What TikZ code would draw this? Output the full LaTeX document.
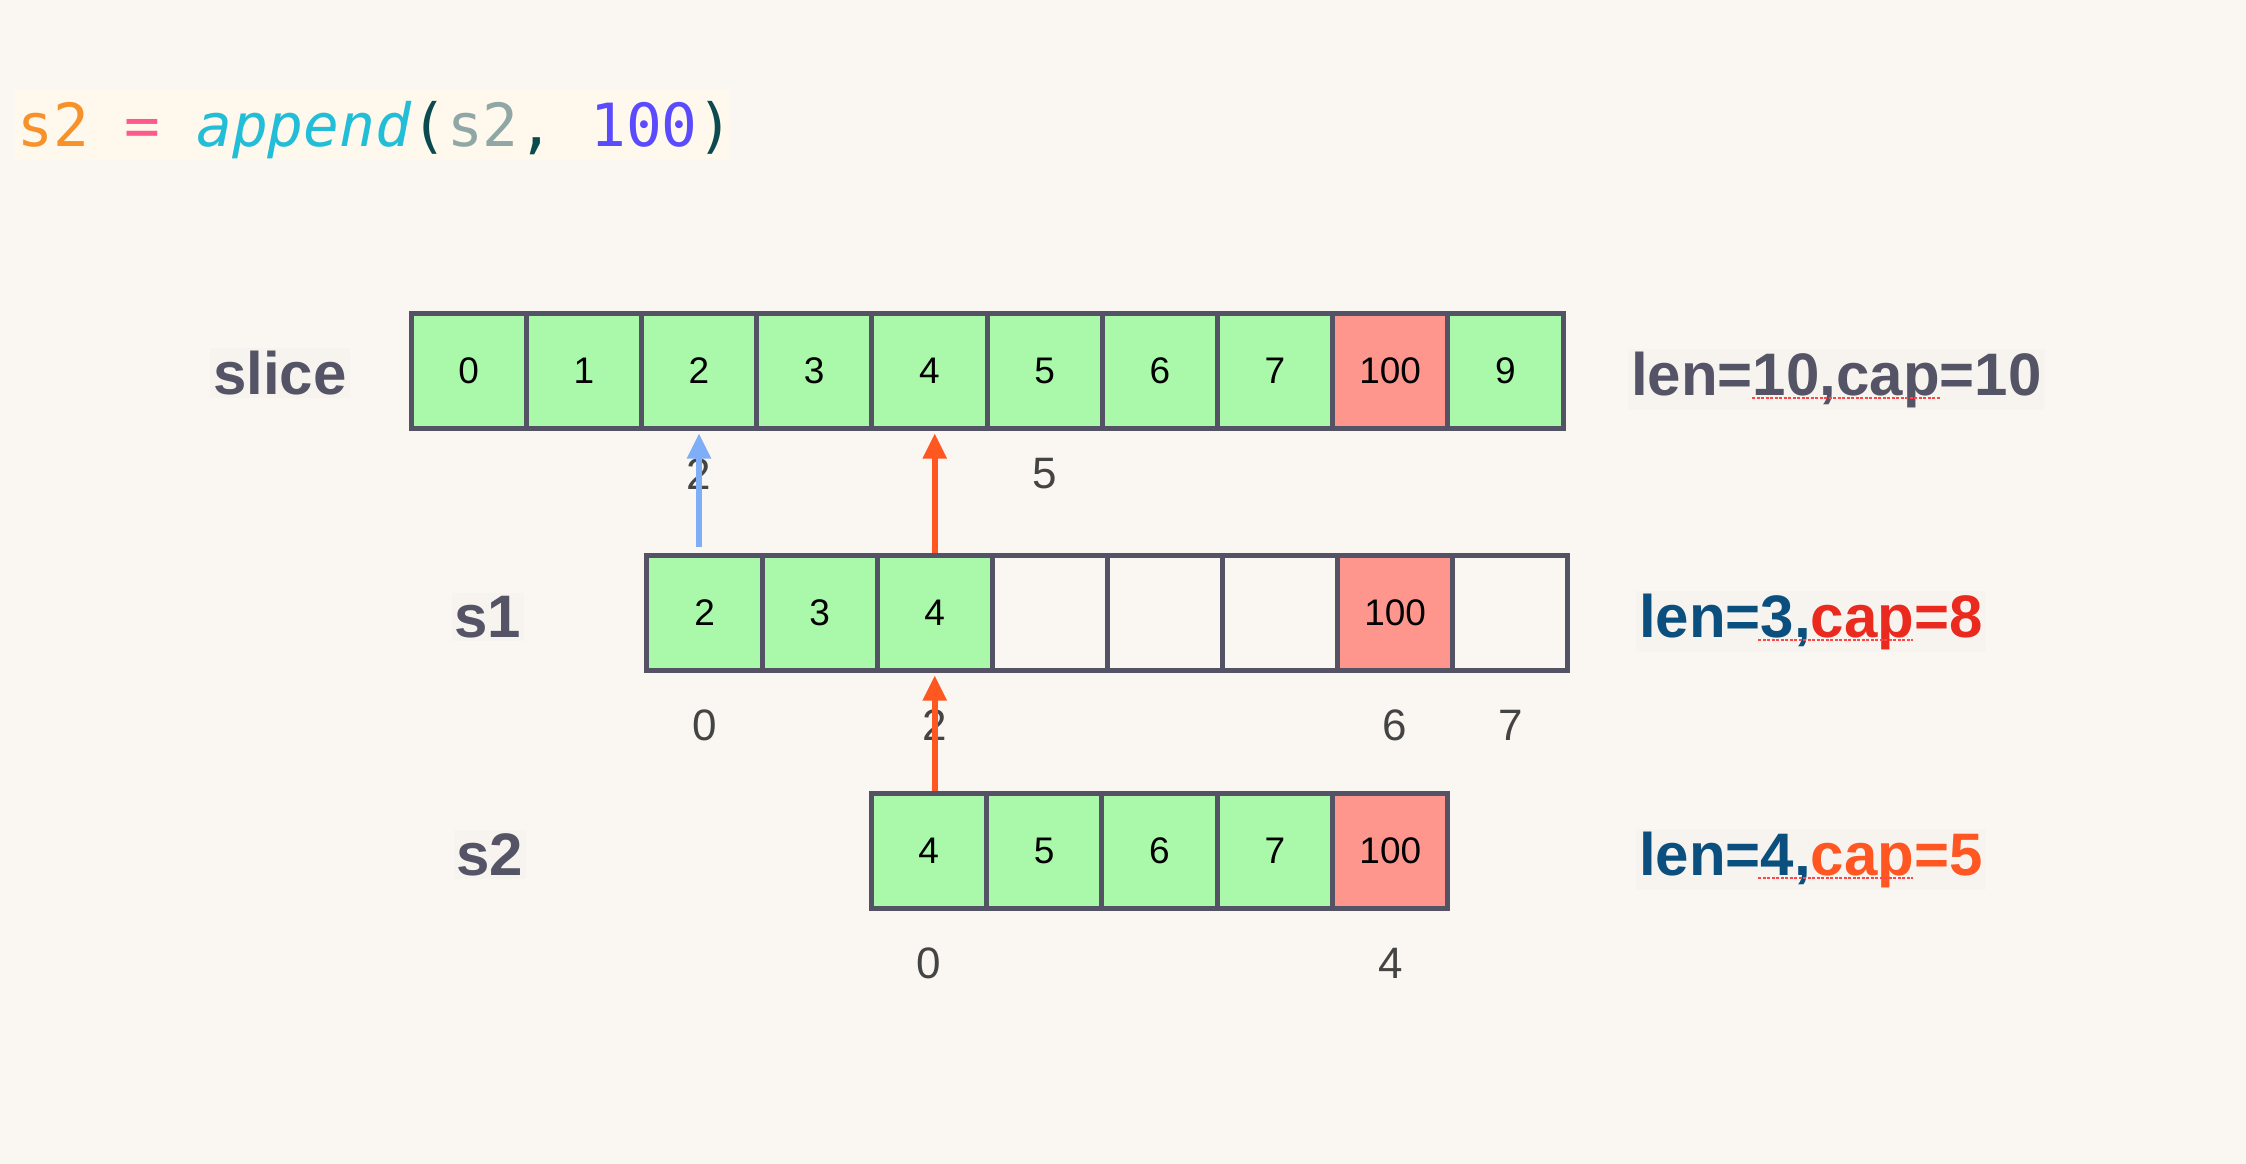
\documentclass[tikz,border=0pt]{standalone}
\usepackage{fontspec}
\setmainfont{Liberation Sans}
\newfontfamily\codefont{DejaVu Sans Mono}
\usetikzlibrary{arrows.meta}
\definecolor{bg}{HTML}{FAF7F2}
\definecolor{codebg}{HTML}{FFF8EC}
\definecolor{lblbg}{HTML}{F7F4EF}
\definecolor{cellborder}{HTML}{545366}
\definecolor{cellgreen}{HTML}{AAF9AA}
\definecolor{cellred}{HTML}{FF968E}
\definecolor{lblgray}{HTML}{555366}
\definecolor{idxgray}{HTML}{444444}
\definecolor{lenblue}{HTML}{0B4F7F}
\definecolor{capred}{HTML}{EA2A1F}
\definecolor{caporange}{HTML}{FF5622}
\definecolor{ptrblue}{HTML}{7DAEF7}
\definecolor{ptrred}{HTML}{FF5722}
\definecolor{spellred}{HTML}{FF4545}
\definecolor{cOrange}{HTML}{F7922A}
\definecolor{cPink}{HTML}{FF5A8C}
\definecolor{cCyan}{HTML}{22BDD6}
\definecolor{cDark}{HTML}{0B4A4F}
\definecolor{cGray}{HTML}{8FA7A5}
\definecolor{cPurple}{HTML}{5A4BFF}
\begin{document}
\begin{tikzpicture}[x=1pt,y=-1pt,
  cell/.style={draw=cellborder, line width=5pt, minimum width=115.2pt, minimum height=115pt,
    inner sep=0pt, font=\fontsize{37}{40}\selectfont, text=black},
  full/.style={cell, fill=cellgreen},
  hot/.style={cell, fill=cellred},
  blankcell/.style={cell, fill=bg},
  rowlbl/.style={font=\bfseries\fontsize{60}{66}\selectfont, text=lblgray, fill=lblbg, inner sep=3pt},
  idx/.style={font=\fontsize{44}{48}\selectfont, text=idxgray, inner sep=0pt},
  ptr/.style={line width=5.5pt, -{Triangle[length=25pt,width=23pt]}, shorten >=3pt},
  spell/.style={draw=spellred, line width=1.6pt, dash pattern=on 3pt off 1.5pt}
]
\fill[bg] (0,0) rectangle (2246,1164);
\useasboundingbox (0,0) rectangle (2246,1164);

% code line
\fill[codebg] (15,90) rectangle (730,160);
\node[anchor=base west, inner sep=0pt, font=\codefont\fontsize{59.5}{62}\selectfont] (code) at (17,146)
  {\textcolor{cOrange}{s2} \textcolor{cPink}{=} \textcolor{cCyan}{\itshape append}\textcolor{cDark}{(}\textcolor{cGray}{s2}\textcolor{cDark}{,} \textcolor{cPurple}{100}\textcolor{cDark}{)}};

% slice row
\foreach \v/\s [count=\i from 0] in {0/full,1/full,2/full,3/full,4/full,5/full,6/full,7/full,100/hot,9/full}
  \node[\s] (sl\i) at ({411+115.2*(\i+0.5)},370.5) {\v};
% s1 row
\foreach \v/\s [count=\i from 0] in {2/full,3/full,4/full,/blankcell,/blankcell,/blankcell,100/hot,/blankcell}
  \node[\s] (sa\i) at ({647+115.1*(\i+0.5)},612.5) {\v};
% s2 row
\foreach \v/\s [count=\i from 0] in {4/full,5/full,6/full,7/full,100/hot}
  \node[\s] (sb\i) at ({871+115.4*(\i+0.5)},850.5) {\v};

% row labels
\node[rowlbl, anchor=base] (lslice) at (280,394) {slice};
\node[rowlbl, anchor=base] (ls1) at (488,637) {s1};
\node[rowlbl, anchor=base] (ls2) at (490,875) {s2};

% len/cap labels
\node[rowlbl, anchor=base west] (capslice) at (1628,395) {len=10,cap=10};
\node[rowlbl, anchor=base west] (caps1) at (1636,637) {\textcolor{lenblue}{len=3,}\textcolor{capred}{cap=8}};
\node[rowlbl, anchor=base west] (caps2) at (1636,875) {\textcolor{lenblue}{len=4,}\textcolor{caporange}{cap=5}};
\draw[spell] (1752,398) -- (1940,398);
\draw[spell] (1758,640) -- (1913,640);
\draw[spell] (1758,878) -- (1913,878);

% index labels
\node[idx] (isl2) at (sl2.south |- 0,474) {2};
\node[idx] (isl5) at (sl5.south |- 0,474) {5};
\node[idx] (isa0) at (sa0.south |- 0,725) {0};
\node[idx] (isa2) at (sa2.south |- 0,725) {2};
\node[idx] (isa6) at (sa6.south |- 0,725) {6};
\node[idx] (isa7) at (sa7.south |- 0,725) {7};
\node[idx] (isb0) at (sb0.south |- 0,963) {0};
\node[idx] (isb4) at (sb4.south |- 0,963) {4};

% pointers
\draw[ptr, draw=ptrblue, fill=ptrblue, shorten <=6pt] (sa0.north -| sl2.south) -- (sl2.south);
\draw[ptr, draw=ptrred, fill=ptrred] (sa2.north) -- (sa2.north |- sl4.south);
\draw[ptr, draw=ptrred, fill=ptrred] (sb0.north -| sa2.south) -- (sa2.south);
\end{tikzpicture}
\end{document}
